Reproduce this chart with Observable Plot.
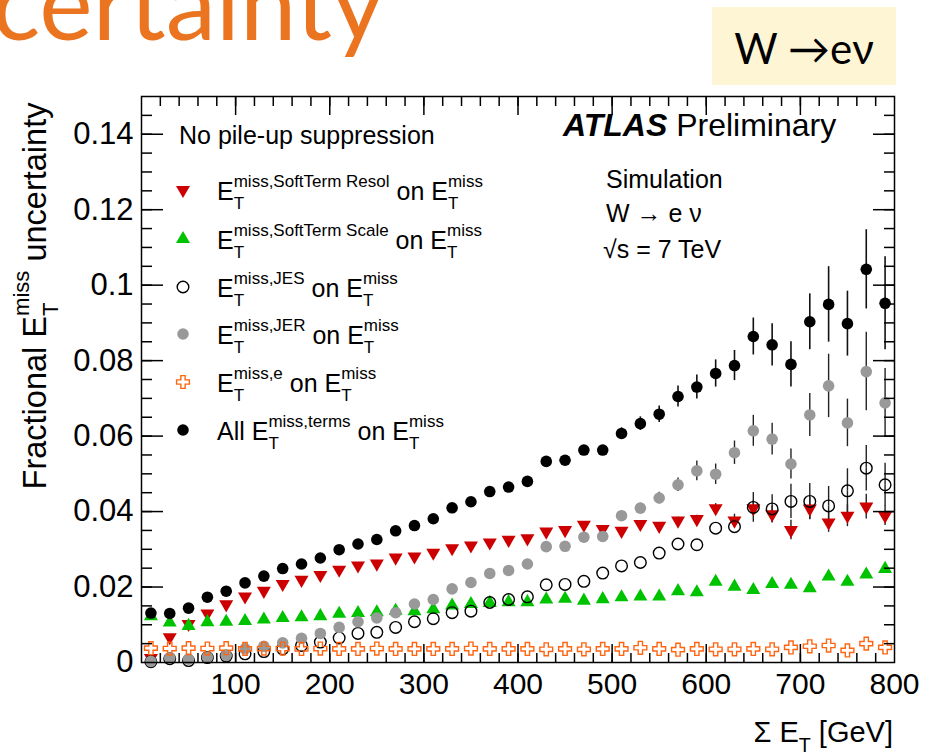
<!DOCTYPE html>
<html>
<head>
<meta charset="utf-8">
<script src="https://cdn.jsdelivr.net/npm/d3@7"></script>
<script src="https://cdn.jsdelivr.net/npm/@observablehq/plot@0.6"></script>
<style>
  body { margin: 0; background: #fff; }
  #chart { width: 926px; height: 756px; overflow: hidden; }
  #chart svg { display: block; }
  #chart text { white-space: pre; }
</style>
</head>
<body>
<div id="chart"></div>
<script>
// Bin centres of the ΣE_T histogram [GeV]
const sumEt = [10,30,50,70,90,110,130,150,170,190,210,230,250,270,290,310,330,350,370,390,
               410,430,450,470,490,510,530,550,570,590,610,630,650,670,690,710,730,750,770,790];

// All E_T^miss terms combined
const allTerms = [0.0131,0.0130,0.0144,0.0173,0.0189,0.0211,0.0229,0.0249,0.0261,0.0277,
                  0.0299,0.0314,0.0326,0.0349,0.0363,0.0381,0.0410,0.0426,0.0453,0.0465,
                  0.0480,0.0533,0.0536,0.0563,0.0563,0.0607,0.0633,0.0658,0.0705,0.0730,
                  0.0766,0.0787,0.0864,0.0842,0.0790,0.0903,0.0949,0.0898,0.1042,0.0952];
const allTermsErr = [0.0004,0.0004,0.0004,0.0004,0.0005,0.0005,0.0005,0.0005,0.0006,0.0006,
                     0.0006,0.0006,0.0007,0.0007,0.0007,0.0008,0.0008,0.0008,0.0009,0.0009,
                     0.0009,0.0010,0.0010,0.0011,0.0012,0.0015,0.0018,0.0022,0.0028,0.0032,
                     0.0036,0.0040,0.0049,0.0056,0.0060,0.0074,0.0100,0.0086,0.0105,0.0123];

// Soft term resolution
const softResol = [0.0012,0.0067,0.0102,0.0130,0.0154,0.0175,0.0190,0.0208,0.0219,0.0232,
                   0.0246,0.0257,0.0262,0.0278,0.0281,0.0291,0.0303,0.0310,0.0318,0.0325,
                   0.0329,0.0347,0.0351,0.0365,0.0354,0.0349,0.0367,0.0362,0.0376,0.0380,
                   0.0409,0.0376,0.0409,0.0393,0.0351,0.0408,0.0371,0.0389,0.0413,0.0389];
const softResolErr = [0.0003,0.0003,0.0003,0.0003,0.0003,0.0003,0.0003,0.0003,0.0004,0.0004,
                      0.0004,0.0004,0.0004,0.0004,0.0005,0.0005,0.0005,0.0005,0.0005,0.0006,
                      0.0006,0.0006,0.0006,0.0007,0.0007,0.0007,0.0008,0.0008,0.0009,0.0010,
                      0.0012,0.0017,0.0020,0.0022,0.0026,0.0030,0.0026,0.0029,0.0033,0.0026];

// Soft term scale
const softScale = [0.0123,0.0106,0.0097,0.0107,0.0108,0.0110,0.0114,0.0118,0.0120,0.0123,
                   0.0129,0.0131,0.0133,0.0137,0.0136,0.0141,0.0151,0.0155,0.0158,0.0160,
                   0.0160,0.0167,0.0169,0.0164,0.0168,0.0173,0.0175,0.0175,0.0189,0.0186,
                   0.0214,0.0201,0.0192,0.0208,0.0206,0.0197,0.0228,0.0214,0.0233,0.0248];
const softScaleErr = [0.0002,0.0002,0.0002,0.0002,0.0002,0.0002,0.0002,0.0002,0.0002,0.0002,
                      0.0002,0.0002,0.0003,0.0003,0.0003,0.0003,0.0003,0.0003,0.0003,0.0003,
                      0.0003,0.0004,0.0004,0.0004,0.0004,0.0004,0.0004,0.0005,0.0005,0.0005,
                      0.0005,0.0006,0.0006,0.0006,0.0007,0.0007,0.0007,0.0008,0.0008,0.0009];

// Jet energy scale
const jes = [0.0002,0.0010,0.0005,0.0013,0.0017,0.0023,0.0029,0.0036,0.0045,0.0054,
             0.0065,0.0077,0.0080,0.0093,0.0108,0.0116,0.0132,0.0136,0.0159,0.0167,
             0.0174,0.0206,0.0207,0.0215,0.0237,0.0256,0.0265,0.0290,0.0314,0.0312,
             0.0356,0.0360,0.0411,0.0407,0.0427,0.0427,0.0415,0.0455,0.0515,0.0471];
const jesErr = [0.0002,0.0002,0.0002,0.0002,0.0002,0.0002,0.0002,0.0003,0.0003,0.0003,
                0.0003,0.0003,0.0003,0.0004,0.0004,0.0004,0.0004,0.0004,0.0005,0.0005,
                0.0005,0.0006,0.0006,0.0006,0.0007,0.0007,0.0008,0.0009,0.0010,0.0011,
                0.0012,0.0015,0.0024,0.0022,0.0030,0.0032,0.0036,0.0043,0.0045,0.0042];

// Jet energy resolution
const jer = [0.0003,0.0012,0.0009,0.0014,0.0019,0.0036,0.0043,0.0052,0.0064,0.0077,
             0.0093,0.0108,0.0118,0.0132,0.0155,0.0167,0.0195,0.0212,0.0236,0.0244,
             0.0261,0.0307,0.0308,0.0332,0.0334,0.0389,0.0409,0.0436,0.0471,0.0508,
             0.0499,0.0556,0.0614,0.0592,0.0526,0.0656,0.0733,0.0635,0.0771,0.0688];
const jerErr = [0.0002,0.0003,0.0003,0.0003,0.0003,0.0003,0.0003,0.0004,0.0004,0.0004,
                0.0004,0.0005,0.0005,0.0005,0.0006,0.0006,0.0006,0.0007,0.0007,0.0008,
                0.0008,0.0009,0.0009,0.0010,0.0011,0.0012,0.0013,0.0015,0.0018,0.0026,
                0.0027,0.0031,0.0041,0.0042,0.0040,0.0057,0.0084,0.0063,0.0104,0.0091];

// Electron term
const electron = [0.0038,0.0037,0.0038,0.0037,0.0038,0.0036,0.0037,0.0037,0.0036,0.0037,
                  0.0036,0.0036,0.0037,0.0036,0.0036,0.0036,0.0036,0.0037,0.0036,0.0036,
                  0.0036,0.0035,0.0036,0.0035,0.0036,0.0036,0.0039,0.0036,0.0034,0.0036,
                  0.0035,0.0035,0.0036,0.0035,0.0040,0.0043,0.0045,0.0032,0.0050,0.0040];

// Axis ticks
const xMajor = [100,200,300,400,500,600,700];
const xMinor = d3.range(20, 800, 20);
const xTickLabels = [100,200,300,400,500,600,700,800];
const yMajor = [0.02,0.04,0.06,0.08,0.10,0.12,0.14];
const yMinor = d3.range(1, 30).map(i => i * 0.005);
const yTickValues = [0,0.02,0.04,0.06,0.08,0.10,0.12,0.14];
const yTickLabels = ["0","0.02","0.04","0.06","0.08","0.1","0.12","0.14"];
const yLabelOf = new Map(yTickValues.map((v, i) => [v, yTickLabels[i]]));

const colors = {resol: "#cc0000", scale: "#00c300", jer: "#999999", e: "#ff6410"};

function series(values, errors) {
  return sumEt.map((x, i) => ({
    x, y: values[i],
    lo: values[i] - (errors ? errors[i] : 0),
    hi: values[i] + (errors ? errors[i] : 0)
  }));
}
const dResol = series(softResol, softResolErr);
const dScale = series(softScale, softScaleErr);
const dJes = series(jes, jesErr);
const dJer = series(jer, jerErr);
const dE = series(electron);
const dAll = series(allTerms, allTermsErr);

// marker sizes (radius of the equal-area circle)
const R = {tri: 5.2, dot: 5.8, ring: 5.8, cross: 5.4};
// hollow markers: error bars stop at the marker edge and vanish when shorter than it
const ringGap = 0.0016;
const dJesBars = dJes.filter(d => d.hi - d.y > ringGap);

const SW = 1.5;
const inward = (axis, data, anchor, size) =>
  axis(data, {anchor, tickSize: -size, fill: "none", strokeWidth: SW});

const chart = Plot.plot({
  width: 926,
  height: 756,
  marginTop: 96,
  marginBottom: 94,
  marginLeft: 141,
  marginRight: 32,
  style: {fontFamily: "'Liberation Sans', Arial, Helvetica, sans-serif", fontSize: "30px", color: "black", background: "white"},
  x: {domain: [0, 800]},
  y: {domain: [0, 0.15]},
  marks: [
    // error bars
    Plot.ruleX(dResol, {x: "x", y1: "lo", y2: "hi", stroke: "#222", strokeWidth: 1.4}),
    Plot.ruleX(dScale, {x: "x", y1: "lo", y2: "hi", stroke: "#222", strokeWidth: 1.4}),
    Plot.ruleX(dJer, {x: "x", y1: "lo", y2: "hi", stroke: "#222", strokeWidth: 1.4}),
    Plot.ruleX(dJesBars, {x: "x", y1: "y", y2: "hi", insetBottom: R.ring, stroke: "#222", strokeWidth: 1.4}),
    Plot.ruleX(dJesBars, {x: "x", y1: "lo", y2: "y", insetTop: R.ring, stroke: "#222", strokeWidth: 1.4}),
    Plot.ruleX(dAll, {x: "x", y1: "lo", y2: "hi", stroke: "#111", strokeWidth: 1.6}),
    // markers
    Plot.dot(dResol, {x: "x", y: "y", symbol: "triangle", rotate: 180, r: R.tri, fill: colors.resol}),
    Plot.dot(dScale, {x: "x", y: "y", symbol: "triangle", r: R.tri, fill: colors.scale}),
    Plot.dot(dJes, {x: "x", y: "y", r: R.ring, fill: "none", stroke: "black", strokeWidth: 1.4}),
    Plot.dot(dJer, {x: "x", y: "y", r: R.dot, fill: colors.jer}),
    Plot.dot(dE, {x: "x", y: "y", symbol: "cross", r: R.cross, fill: "none", stroke: colors.e, strokeWidth: 1.4}),
    Plot.dot(dAll, {x: "x", y: "y", r: R.dot, fill: "black"}),
    // frame and inward ticks on all four sides
    Plot.frame({stroke: "black", strokeWidth: SW}),
    inward(Plot.axisX, xMinor, "bottom", 9),
    inward(Plot.axisX, xMajor, "bottom", 18),
    inward(Plot.axisX, xMinor, "top", 9),
    inward(Plot.axisX, xMajor, "top", 18),
    inward(Plot.axisY, yMinor, "left", 11),
    inward(Plot.axisY, yMajor, "left", 22),
    inward(Plot.axisY, yMinor, "right", 11),
    inward(Plot.axisY, yMajor, "right", 22),
    // tick labels
    Plot.axisX(xTickLabels, {anchor: "bottom", tickSize: 0, tickPadding: 10, fontSize: 30, tickFormat: d => String(d), label: null}),
    Plot.axisY(yTickValues, {anchor: "left", tickSize: 0, tickPadding: 8, fontSize: 31, tickFormat: d => yLabelOf.get(d), label: null})
  ]
});

document.getElementById("chart").append(chart);
const svg = d3.select(chart);
const ann = svg.append("g").attr("text-anchor", "start").attr("fill", "black");

// Lay out text with stacked super/subscripts (E_T^miss style)
function richText(g, x, baseline, parts, size, supScale = 0.68) {
  let cx = x;
  for (const p of parts) {
    if (typeof p === "string") {
      const t = g.append("text").attr("x", cx).attr("y", baseline).attr("font-size", size).text(p);
      cx += t.node().getComputedTextLength();
    } else {
      let w = 0;
      if (p.sup) {
        const t = g.append("text").attr("x", cx).attr("y", baseline - size * 0.52)
          .attr("font-size", size * supScale).text(p.sup);
        w = Math.max(w, t.node().getComputedTextLength());
      }
      if (p.sub) {
        const t = g.append("text").attr("x", cx).attr("y", baseline + size * 0.36)
          .attr("font-size", size * supScale).text(p.sub);
        w = Math.max(w, t.node().getComputedTextLength());
      }
      cx += w;
    }
  }
  return cx - x;
}

// Section heading above the plot
ann.append("text")
  .attr("x", 384).attr("y", 40)
  .attr("text-anchor", "end")
  .attr("font-family", "Lato, 'Open Sans', sans-serif")
  .attr("font-size", 101)
  .attr("fill", "#ea7420")
  .text("Uncertainty");

// Channel tag
ann.append("rect").attr("x", 712).attr("y", 7).attr("width", 184).attr("height", 78).attr("fill", "#fef5d4");
ann.append("text")
  .attr("x", 804).attr("y", 64)
  .attr("text-anchor", "middle")
  .attr("font-family", "Lato, 'Open Sans', sans-serif")
  .attr("font-size", 42)
  .text("W →eν");

// Axis titles
const yTitle = ann.append("g").attr("transform", "translate(46,296) rotate(-90)");
const yInner = yTitle.append("g");
const yw = richText(yInner, 0, 0, ["Fractional E", {sup: "miss", sub: "T"}, " uncertainty"], 32.5);
yInner.attr("transform", `translate(${-yw / 2},0)`);

const xTitle = ann.append("g");
const xw = richText(xTitle, 0, 742, ["Σ E", {sub: "T"}, " [GeV]"], 29);
xTitle.attr("transform", `translate(${893 - xw},0)`);

// Experiment label
const atlas = ann.append("text").attr("x", 563).attr("y", 136).attr("font-size", 32);
atlas.append("tspan").attr("font-weight", "bold").attr("font-style", "italic").text("ATLAS");
atlas.append("tspan").text(" Preliminary");
ann.append("text").attr("x", 606).attr("y", 188).attr("font-size", 25).text("Simulation");
ann.append("text").attr("x", 606).attr("y", 222).attr("font-size", 25).text("W → e ν");
ann.append("text").attr("x", 603).attr("y", 258).attr("font-size", 25).text("√s = 7 TeV");

// Legend
ann.append("text").attr("x", 179).attr("y", 144).attr("font-size", 25).text("No pile-up suppression");
const sym = (type, r) => d3.symbol(type, Math.PI * r * r)();
const legendRows = [
  {marker: {d: sym(d3.symbolTriangle, R.tri), rotate: 180, fill: colors.resol},
   parts: ["E", {sup: "miss,SoftTerm Resol", sub: "T"}, " on E", {sup: "miss", sub: "T"}]},
  {marker: {d: sym(d3.symbolTriangle, R.tri), fill: colors.scale},
   parts: ["E", {sup: "miss,SoftTerm Scale", sub: "T"}, " on E", {sup: "miss", sub: "T"}]},
  {marker: {d: sym(d3.symbolCircle, R.ring), fill: "none", stroke: "black"},
   parts: ["E", {sup: "miss,JES", sub: "T"}, " on E", {sup: "miss", sub: "T"}]},
  {marker: {d: sym(d3.symbolCircle, R.dot), fill: colors.jer},
   parts: ["E", {sup: "miss,JER", sub: "T"}, " on E", {sup: "miss", sub: "T"}]},
  {marker: {d: sym(d3.symbolCross, R.cross), fill: "none", stroke: colors.e},
   parts: ["E", {sup: "miss,e", sub: "T"}, " on E", {sup: "miss", sub: "T"}]},
  {marker: {d: sym(d3.symbolCircle, R.dot), fill: "black"},
   parts: ["All E", {sup: "miss,terms", sub: "T"}, " on E", {sup: "miss", sub: "T"}]}
];
const legendY = [190, 239, 287, 334, 382, 430];
legendRows.forEach((row, i) => {
  const cy = legendY[i];
  const m = row.marker;
  ann.append("path")
    .attr("d", m.d)
    .attr("transform", `translate(183,${cy})${m.rotate ? ` rotate(${m.rotate})` : ""}`)
    .attr("fill", m.fill)
    .attr("stroke", m.stroke || "none")
    .attr("stroke-width", 1.4);
  richText(ann.append("g"), 217, cy + 10, row.parts, 25);
});
</script>
</body>
</html>
